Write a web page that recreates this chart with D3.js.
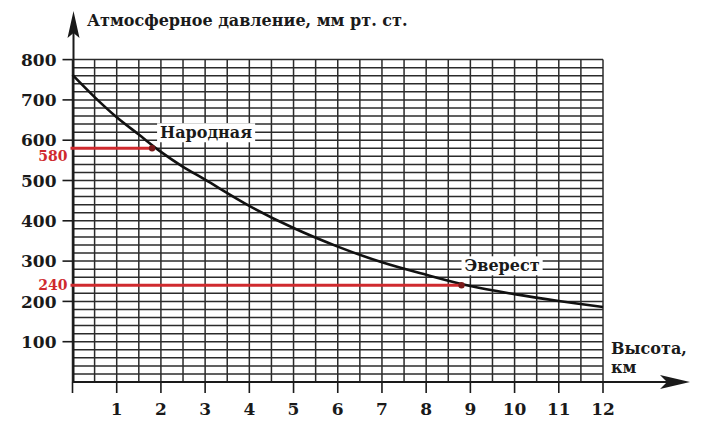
<!DOCTYPE html>
<html>
<head>
<meta charset="utf-8">
<script src="https://cdn.jsdelivr.net/npm/d3@7"></script>
<style>
  html, body { margin: 0; padding: 0; background: #fff; }
  svg { display: block; font-family: "DejaVu Serif", serif; }
</style>
</head>
<body>
<div id="chart"></div>
<script>
// pressure curve
const heights = [0, 0.5, 1, 1.5, 2, 2.5, 3, 4, 5, 6, 7, 8, 9, 10, 11, 12];
const pressure = [762, 707, 657, 614, 571, 534, 502, 437, 382, 336, 297, 266, 238, 218, 201, 186];

const xTicks = [1, 2, 3, 4, 5, 6, 7, 8, 9, 10, 11, 12];
const yTicks = [100, 200, 300, 400, 500, 600, 700, 800];

// marked peaks
const peakNames = ["Народная", "Эверест"];
const peakHeights = [1.8, 8.8];
const peakPressure = [580, 240];

const yTitle = "Атмосферное давление, мм рт. ст.";
const xTitle = ["Высота,", "км"];

const width = 711, height = 437;

const x = d3.scaleLinear().domain([0, 12]).range([72.5, 603]);
const y = d3.scaleLinear().domain([0, 800]).range([382, 59.6]);

const svg = d3.select("#chart").append("svg")
  .attr("width", width)
  .attr("height", height)
  .attr("viewBox", [0, 0, width, height]);

const ink = "#1a1a1a";
const red = "#cf2a2e";

// grid: every 0.5 km and every 20 mm
const grid = svg.append("g").attr("stroke", "#2b2b2b").attr("stroke-width", 1.5);
grid.selectAll("line.v")
  .data(d3.range(0, 12.01, 0.5))
  .join("line")
  .attr("x1", d => x(d)).attr("x2", d => x(d))
  .attr("y1", y(800)).attr("y2", y(0));
grid.selectAll("line.h")
  .data(d3.range(20, 801, 20))
  .join("line")
  .attr("x1", x(0)).attr("x2", x(12))
  .attr("y1", d => y(d)).attr("y2", d => y(d));

// y ticks extend left of the axis
svg.append("g")
  .attr("stroke", ink).attr("stroke-width", 1.6)
  .selectAll("line")
  .data(yTicks)
  .join("line")
  .attr("x1", x(0) - 10).attr("x2", x(0))
  .attr("y1", d => y(d)).attr("y2", d => y(d));

svg.append("g")
  .attr("font-size", 17).attr("font-weight", "bold").attr("fill", ink)
  .attr("text-anchor", "end")
  .selectAll("text")
  .data(yTicks)
  .join("text")
  .attr("x", x(0) - 16)
  .attr("y", d => y(d))
  .attr("dy", "0.36em")
  .text(d => d);

// x ticks below the axis
svg.append("g")
  .attr("stroke", ink).attr("stroke-width", 1.6)
  .selectAll("line")
  .data([0].concat(xTicks))
  .join("line")
  .attr("x1", d => x(d)).attr("x2", d => x(d))
  .attr("y1", y(0)).attr("y2", y(0) + 11);

svg.append("g")
  .attr("font-size", 17).attr("font-weight", "bold").attr("fill", ink)
  .attr("text-anchor", "middle")
  .selectAll("text")
  .data(xTicks)
  .join("text")
  .attr("x", d => x(d))
  .attr("y", 415)
  .text(d => d);

// axes with arrows
svg.append("line")
  .attr("x1", x(0)).attr("x2", 672)
  .attr("y1", y(0)).attr("y2", y(0))
  .attr("stroke", ink).attr("stroke-width", 2);
svg.append("path")
  .attr("d", `M690,${y(0)} L660,${y(0) - 7} L667,${y(0)} L660,${y(0) + 7} Z`)
  .attr("fill", ink);

svg.append("line")
  .attr("x1", x(0) + 1).attr("x2", x(0) + 1)
  .attr("y1", y(0)).attr("y2", 30)
  .attr("stroke", ink).attr("stroke-width", 2);
svg.append("path")
  .attr("d", `M${x(0) + 1},11 L${x(0) - 5},38 L${x(0) + 1},33 L${x(0) + 7},38 Z`)
  .attr("fill", ink);

// axis titles
svg.append("text")
  .attr("x", 87).attr("y", 26)
  .attr("font-size", 16).attr("font-weight", "bold").attr("fill", ink)
  .text(yTitle);

svg.append("text")
  .attr("font-size", 16).attr("font-weight", "bold").attr("fill", ink)
  .selectAll("tspan")
  .data(xTitle)
  .join("tspan")
  .attr("x", 611)
  .attr("y", (d, i) => 354 + i * 19)
  .text(d => d);

// pressure curve
const line = d3.line()
  .x((d, i) => x(heights[i]))
  .y(d => y(d))
  .curve(d3.curveCatmullRom.alpha(0.5));

svg.append("path")
  .datum(pressure)
  .attr("d", line)
  .attr("fill", "none")
  .attr("stroke", "#111")
  .attr("stroke-width", 2.6);

// red reading lines
svg.append("g")
  .attr("stroke", red).attr("stroke-width", 3)
  .selectAll("line")
  .data(peakPressure)
  .join("line")
  .attr("x1", x(0) - 2)
  .attr("x2", (d, i) => x(peakHeights[i]))
  .attr("y1", d => y(d)).attr("y2", d => y(d));

svg.append("g")
  .attr("fill", "#7a1a1a")
  .selectAll("circle")
  .data(peakPressure)
  .join("circle")
  .attr("cx", (d, i) => x(peakHeights[i]))
  .attr("cy", d => y(d))
  .attr("r", 3.2);

svg.append("g")
  .attr("font-size", 14).attr("font-weight", "bold").attr("fill", red)
  .attr("text-anchor", "end")
  .selectAll("text")
  .data(peakPressure)
  .join("text")
  .attr("x", x(0) - 5)
  .attr("y", (d, i) => y(d) + (i === 0 ? 13 : 5))
  .text(d => d);

// peak names on white patches
const offsets = [[8, -10], [3, -14]];
const labels = svg.append("g")
  .selectAll("g")
  .data(peakNames)
  .join("g")
  .attr("transform", (d, i) => `translate(${x(peakHeights[i]) + offsets[i][0]},${y(peakPressure[i]) + offsets[i][1]})`);

labels.append("text")
  .attr("font-size", 16).attr("font-weight", "bold").attr("fill", ink)
  .text(d => d);

labels.each(function () {
  const g = d3.select(this);
  const b = g.select("text").node().getBBox();
  g.insert("rect", "text")
    .attr("x", b.x - 3).attr("y", b.y)
    .attr("width", b.width + 6).attr("height", b.height)
    .attr("fill", "#fff");
});
</script>
</body>
</html>
